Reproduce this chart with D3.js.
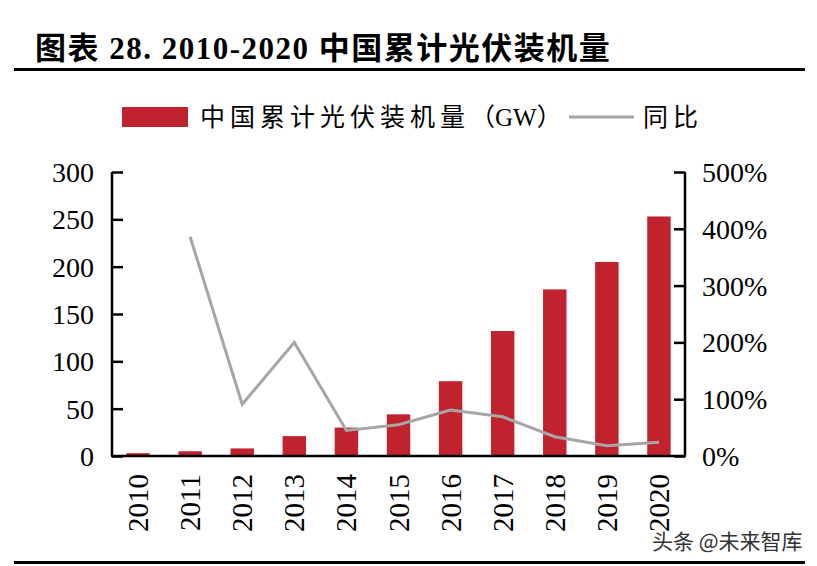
<!DOCTYPE html>
<html>
<head>
<meta charset="utf-8">
<script src="https://cdn.jsdelivr.net/npm/d3@7"></script>
<style>
  body { margin: 0; background: #fff; }
  svg { display: block; }
</style>
</head>
<body>
<svg width="817" height="566"></svg>
<script>
// Data
const years = ["2010", "2011", "2012", "2013", "2014", "2015", "2016", "2017", "2018", "2019", "2020"];
const capacity = [3, 5, 8, 21, 30, 44, 79, 132, 176, 205, 253];          // GW
const yoy = [null, 386, 91, 200, 45, 55, 81, 69, 34, 18, 24];              // %
const leftTicks = [0, 50, 100, 150, 200, 250, 300];
const rightTicks = [0, 100, 200, 300, 400, 500];

const svg = d3.select("svg");
const serif = "'Liberation Serif', 'Times New Roman', 'Noto Sans CJK SC', serif";
const cjk = "'Liberation Serif', 'Noto Sans CJK SC', sans-serif";

// Title + rules
svg.append("text")
    .attr("x", 35).attr("y", 59)
    .attr("font-family", cjk)
    .attr("font-weight", "bold")
    .attr("font-size", 31)
    .attr("letter-spacing", 1.5)
    .text("图表 28. 2010-2020 中国累计光伏装机量");
svg.append("rect").attr("x", 14).attr("y", 68).attr("width", 791).attr("height", 3).attr("fill", "#000");
svg.append("rect").attr("x", 14).attr("y", 561).attr("width", 791).attr("height", 3).attr("fill", "#000");

// Scales
const x = d3.scaleBand().domain(years).range([112, 685]).paddingInner(0.55).paddingOuter(0.275);
const y = d3.scaleLinear().domain([0, 300]).range([456, 172]);
const y2 = d3.scaleLinear().domain([0, 500]).range([456, 172]);

// Bars
svg.append("g")
    .selectAll("rect")
    .data(capacity)
    .join("rect")
    .attr("x", (d, i) => x(years[i]))
    .attr("y", d => y(d))
    .attr("width", x.bandwidth())
    .attr("height", d => y(0) - y(d))
    .attr("fill", "#c0232d");

// Line
const line = d3.line()
    .defined(d => d != null)
    .x((d, i) => x(years[i]) + x.bandwidth() / 2)
    .y(d => y2(d));
svg.append("path")
    .datum(yoy)
    .attr("d", line)
    .attr("fill", "none")
    .attr("stroke", "#a6a6a6")
    .attr("stroke-width", 3);

// Axes
const leftAxis = svg.append("g")
    .attr("transform", "translate(112,0)")
    .call(d3.axisRight(y).tickValues(leftTicks).tickSize(11).tickFormat(""));
const rightAxis = svg.append("g")
    .attr("transform", "translate(685,0)")
    .call(d3.axisLeft(y2).tickValues(rightTicks).tickSize(11).tickFormat(""));
[leftAxis, rightAxis].forEach(g => {
    g.select(".domain").attr("stroke", "#000").attr("stroke-width", 2.5).attr("d", "M0,172V456");
    g.selectAll(".tick line").attr("stroke", "#000").attr("stroke-width", 2.5);
});

svg.append("line")
    .attr("x1", 111).attr("x2", 686)
    .attr("y1", 456).attr("y2", 456)
    .attr("stroke", "#000").attr("stroke-width", 2.5);

// Tick labels
svg.append("g")
    .selectAll("text")
    .data(leftTicks)
    .join("text")
    .attr("x", 94)
    .attr("y", d => y(d) + 10)
    .attr("text-anchor", "end")
    .attr("font-family", serif)
    .attr("font-size", 28)
    .text(d => d);

svg.append("g")
    .selectAll("text")
    .data(rightTicks)
    .join("text")
    .attr("x", 702)
    .attr("y", d => y2(d) + 10)
    .attr("font-family", serif)
    .attr("font-size", 28)
    .text(d => d + "%");

svg.append("g")
    .selectAll("text")
    .data(years)
    .join("text")
    .attr("transform", d => `translate(${x(d) + x.bandwidth() / 2 + 10},474) rotate(-90)`)
    .attr("text-anchor", "end")
    .attr("font-family", serif)
    .attr("font-size", 29)
    .text(d => d);

// Legend
svg.append("rect").attr("x", 122).attr("y", 107).attr("width", 66).attr("height", 20).attr("fill", "#c0232d");
const leg = svg.append("text")
    .attr("x", 200).attr("y", 126)
    .attr("font-family", cjk)
    .attr("font-size", 25);
leg.append("tspan").attr("letter-spacing", 5).text("中国累计光伏装机量");
leg.append("tspan").text("（GW）");
svg.append("line")
    .attr("x1", 569).attr("x2", 634).attr("y1", 117).attr("y2", 117)
    .attr("stroke", "#a6a6a6").attr("stroke-width", 3);
svg.append("text")
    .attr("x", 643).attr("y", 126)
    .attr("font-family", cjk)
    .attr("font-size", 25)
    .attr("letter-spacing", 5)
    .text("同比");

// Watermark
svg.append("text")
    .attr("x", 652).attr("y", 549)
    .attr("font-family", "'Noto Sans CJK SC', sans-serif")
    .attr("font-size", 21)
    .attr("fill", "#333")
    .attr("stroke", "#fff").attr("stroke-width", 3).attr("paint-order", "stroke")
    .text("头条 @未来智库");
</script>
</body>
</html>
